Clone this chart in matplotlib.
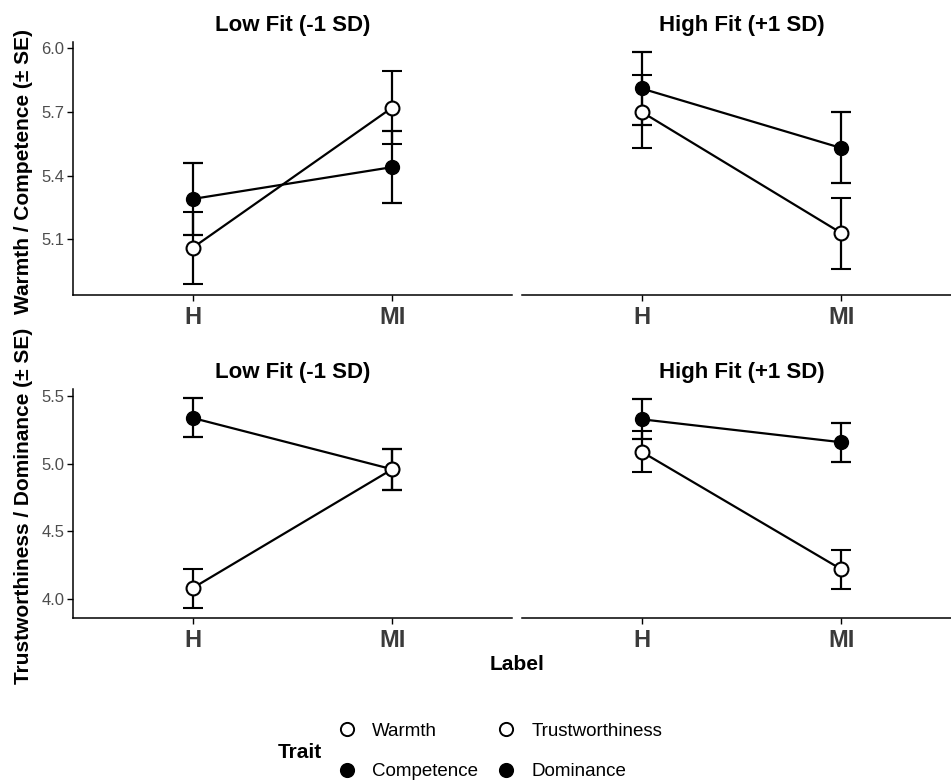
import matplotlib
matplotlib.use("Agg")
import matplotlib.pyplot as plt
from matplotlib.lines import Line2D

plt.rcParams['font.family'] = ['Liberation Sans', 'DejaVu Sans']

# ── Data ──────────────────────────────────────────────────────────────────────
labels = ['H', 'MI']
panel_titles = ['Low Fit (-1 SD)', 'High Fit (+1 SD)']

# top row: Warmth / Competence
warmth_low        = [5.06, 5.72]
warmth_low_se     = [0.170, 0.171]
competence_low    = [5.29, 5.44]
competence_low_se = [0.169, 0.170]
warmth_high        = [5.70, 5.13]
warmth_high_se     = [0.172, 0.167]
competence_high    = [5.81, 5.53]
competence_high_se = [0.172, 0.167]

# bottom row: Trustworthiness / Dominance
trust_low      = [4.08, 4.96]
trust_low_se   = [0.144, 0.150]
dom_low        = [5.34, 4.96]
dom_low_se     = [0.144, 0.150]
trust_high     = [5.09, 4.22]
trust_high_se  = [0.150, 0.144]
dom_high       = [5.33, 5.16]
dom_high_se    = [0.149, 0.143]

top_ticks = [5.1, 5.4, 5.7, 6.0]
bot_ticks = [4.0, 4.5, 5.0, 5.5]

W, H = 951, 783
fig = plt.figure(figsize=(W / 100, H / 100), dpi=100)

def px_axes(x0, y0, x1, y1):
    return fig.add_axes([x0 / W, 1 - y1 / H, (x1 - x0) / W, (y1 - y0) / H])

TICK_GREY = '#4d4d4d'

def draw_panel(ax, title, open_y, open_se, fill_y, fill_se, ylim, yticks, show_y):
    x = list(range(1, len(labels) + 1))
    # filled trait first, open trait on top
    ax.errorbar(x, fill_y, yerr=fill_se, color='black', lw=1.6, capsize=7,
                capthick=1.6, marker='o', ms=10, mfc='black', mec='black', zorder=3)
    ax.errorbar(x, open_y, yerr=open_se, color='black', lw=1.6, capsize=7,
                capthick=1.6, marker='o', ms=10, mfc='white', mec='black',
                mew=1.5, zorder=4)
    ax.set_xlim(0.4, 2.6)
    ax.set_ylim(*ylim)
    ax.set_xticks(x)
    ax.set_xticklabels(labels, fontsize=17, fontweight='bold', color='#3a3a3a')
    ax.set_title(title, fontsize=16, fontweight='bold', pad=8)
    for s in ['top', 'right']:
        ax.spines[s].set_visible(False)
    ax.spines['bottom'].set_linewidth(1.1)
    ax.spines['left'].set_linewidth(1.1)
    ax.tick_params(axis='x', length=4, width=1, pad=4)
    if show_y:
        ax.set_yticks(yticks)
        ax.set_yticklabels([f"{t:.1f}" for t in yticks], fontsize=12, color=TICK_GREY)
        ax.tick_params(axis='y', length=4, width=1, pad=2)
    else:
        ax.spines['left'].set_visible(False)
        ax.set_yticks([])

top_ylim = (4.837, 6.030)
bot_ylim = (3.857, 5.554)

ax_tl = px_axes(72.7, 41.7, 512, 295.3)
ax_tr = px_axes(521.7, 41.7, 961, 295.3)
ax_bl = px_axes(72.7, 389, 512, 618.3)
ax_br = px_axes(521.7, 389, 961, 618.3)

draw_panel(ax_tl, panel_titles[0], warmth_low, warmth_low_se,
           competence_low, competence_low_se, top_ylim, top_ticks, True)
draw_panel(ax_tr, panel_titles[1], warmth_high, warmth_high_se,
           competence_high, competence_high_se, top_ylim, top_ticks, False)
draw_panel(ax_bl, panel_titles[0], trust_low, trust_low_se,
           dom_low, dom_low_se, bot_ylim, bot_ticks, True)
draw_panel(ax_br, panel_titles[1], trust_high, trust_high_se,
           dom_high, dom_high_se, bot_ylim, bot_ticks, False)

# ── Axis titles ───────────────────────────────────────────────────────────────
fig.text(24 / W, 1 - 172 / H, 'Warmth / Competence (± SE)', rotation=90,
         ha='center', va='center', fontsize=15, fontweight='bold')
fig.text(24 / W, 1 - 506 / H, 'Trustworthiness / Dominance (± SE)', rotation=90,
         ha='center', va='center', fontsize=15, fontweight='bold')
fig.text(516.7 / W, 1 - 665 / H, 'Label', ha='center', va='center',
         fontsize=15, fontweight='bold')

# ── Legend ────────────────────────────────────────────────────────────────────
trait_names = ['Warmth', 'Competence', 'Trustworthiness', 'Dominance']
trait_fill = ['white', 'black', 'white', 'black']
handles = [Line2D([], [], ls='none', marker='o', ms=9.5, mfc=f, mec='black', mew=1.4)
           for f in trait_fill]
fig.legend(handles, trait_names, ncol=2, loc='center left',
           bbox_to_anchor=(337.3 / W, 1 - 751.5 / H), frameon=False,
           fontsize=13.5, handlelength=1.0, handletextpad=0.83,
           columnspacing=1.03, labelspacing=1.26, borderpad=0, borderaxespad=0)
fig.text(278 / W, 1 - 752 / H, 'Trait', ha='left', va='center',
         fontsize=15, fontweight='bold')

fig.savefig('out.png', dpi=100)
